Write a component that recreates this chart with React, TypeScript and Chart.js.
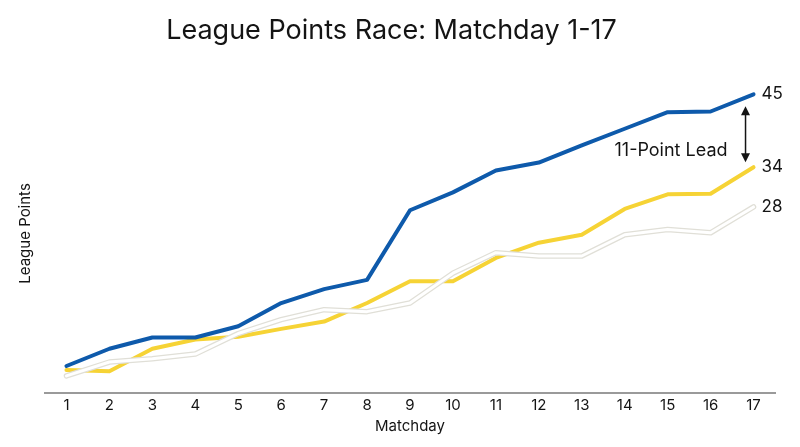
import { useEffect, useRef } from "react";
import Chart from "chart.js/auto";

const matchdays = ["1", "2", "3", "4", "5", "6", "7", "8", "9", "10", "11", "12", "13", "14", "15", "16", "17"];
const leaderPoints = [4, 6.6, 8.3, 8.3, 10, 13.5, 15.6, 17, 27.5, 30.2, 33.5, 34.7, 37.3, 39.8, 42.3, 42.4, 45];
const chaserPoints = [3.4, 3.2, 6.6, 8, 8.4, 9.6, 10.7, 13.5, 16.8, 16.8, 20.3, 22.6, 23.8, 27.7, 29.9, 30, 34];
const thirdPoints = [2.5, 4.6, 5.1, 5.8, 8.9, 11, 12.5, 12.2, 13.5, 18, 21.1, 20.6, 20.6, 23.8, 24.6, 24.1, 28];

const BLUE = "#0E5AAB";
const YELLOW = "#F6D335";
const OUTLINE = "#E0DFD7";
const TEXT = "#141414";
const FONT = "Inter, 'Liberation Sans', sans-serif";

// end labels, lead arrow and its caption
const annotations = {
  id: "annotations",
  afterDatasetsDraw(chart: any) {
    const { ctx, scales } = chart;
    const x = scales.x;
    const y = scales.y;
    const last = matchdays.length - 1;
    const px = x.getPixelForValue(last);
    ctx.save();
    ctx.fillStyle = TEXT;
    ctx.font = `17px ${FONT}`;
    ctx.textBaseline = "middle";
    ctx.textAlign = "left";
    [leaderPoints, chaserPoints, thirdPoints].forEach((s) => {
      ctx.fillText(String(s[last]), px + 8, y.getPixelForValue(s[last]));
    });

    const ax = px - 8;
    const top = y.getPixelForValue(leaderPoints[last]) + 12;
    const bottom = y.getPixelForValue(chaserPoints[last]) - 5;
    ctx.strokeStyle = TEXT;
    ctx.lineWidth = 1.5;
    ctx.beginPath();
    ctx.moveTo(ax, top + 6);
    ctx.lineTo(ax, bottom - 6);
    ctx.stroke();
    ctx.beginPath();
    ctx.moveTo(ax, top);
    ctx.lineTo(ax - 4.5, top + 9);
    ctx.lineTo(ax + 4.5, top + 9);
    ctx.closePath();
    ctx.fill();
    ctx.beginPath();
    ctx.moveTo(ax, bottom);
    ctx.lineTo(ax - 4.5, bottom - 9);
    ctx.lineTo(ax + 4.5, bottom - 9);
    ctx.closePath();
    ctx.fill();

    ctx.font = `18px ${FONT}`;
    ctx.textAlign = "right";
    const lead = leaderPoints[last] - chaserPoints[last];
    ctx.fillText(`${lead}-Point Lead`, ax - 18, bottom - 12);
    ctx.restore();
  },
};

export default function App() {
  const canvasRef = useRef<HTMLCanvasElement>(null);

  useEffect(() => {
    if (!canvasRef.current) return;
    const line = {
      pointRadius: 0,
      tension: 0,
      borderCapStyle: "round" as const,
      borderJoinStyle: "round" as const,
      fill: false,
    };
    const chart = new Chart(canvasRef.current, {
      type: "line",
      data: {
        labels: matchdays,
        datasets: [
          { ...line, label: "Third", data: thirdPoints, borderColor: "#FFFFFF", borderWidth: 3, order: 0 },
          { ...line, label: "Third outline", data: thirdPoints, borderColor: OUTLINE, borderWidth: 5.5, order: 1 },
          { ...line, label: "Leader", data: leaderPoints, borderColor: BLUE, borderWidth: 4, order: 2 },
          { ...line, label: "Chaser", data: chaserPoints, borderColor: YELLOW, borderWidth: 4, order: 3 },
        ],
      },
      options: {
        responsive: true,
        maintainAspectRatio: false,
        animation: false,
        layout: { padding: { left: 8, right: 25, top: 0, bottom: 12 } },
        scales: {
          x: {
            offset: true,
            grid: { display: false, drawTicks: false },
            border: { display: true, color: "#9A9A9A", width: 2 },
            ticks: { color: TEXT, font: { family: FONT, size: 15 }, padding: 4, maxRotation: 0, autoSkip: false },
            title: {
              display: true,
              text: "Matchday",
              color: TEXT,
              font: { family: FONT, size: 15, lineHeight: 1.1 },
              padding: { top: 0, bottom: 0 },
            },
          },
          y: {
            min: 0,
            max: 48,
            grid: { display: false, drawTicks: false },
            border: { display: false },
            ticks: { display: false },
            title: {
              display: true,
              text: "League Points",
              color: TEXT,
              font: { family: FONT, size: 15 },
              padding: { top: 8, bottom: 11 },
            },
          },
        },
        plugins: {
          legend: { display: false },
          tooltip: { enabled: false },
          title: {
            display: true,
            text: "League Points Race: Matchday 1-17",
            color: TEXT,
            font: { family: FONT, size: 27, weight: "normal" },
            padding: { top: 15, bottom: 27 },
          },
        },
      },
      plugins: [annotations],
    });
    return () => chart.destroy();
  }, []);

  return (
    <div style={{ position: "fixed", left: 0, top: 0, width: 800, height: 447, background: "#fff" }}>
      <canvas ref={canvasRef}></canvas>
    </div>
  );
}
